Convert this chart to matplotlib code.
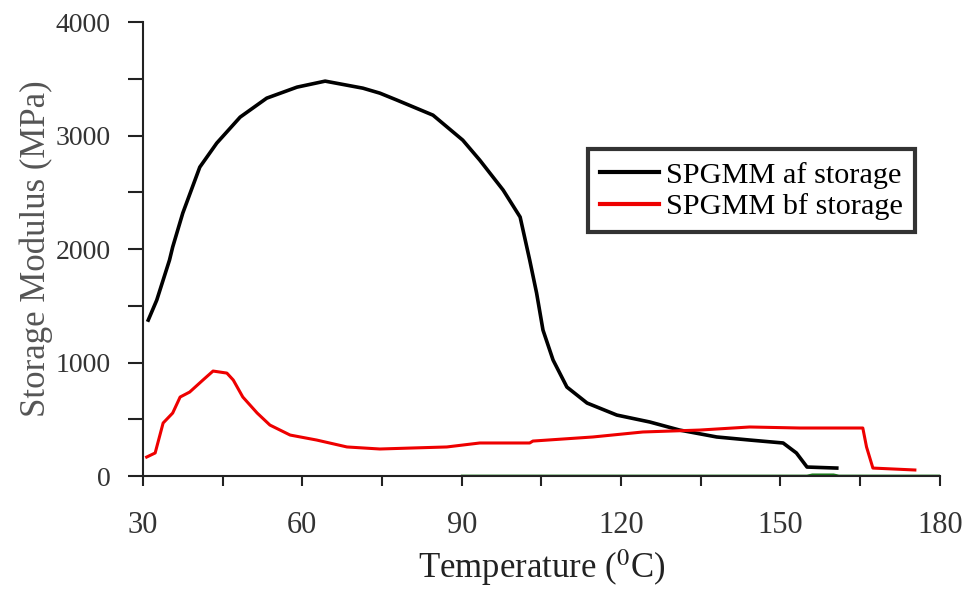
import matplotlib
matplotlib.use("Agg")
import matplotlib.pyplot as plt
from matplotlib.ticker import MultipleLocator

plt.rcParams['font.family'] = ['Liberation Serif', 'DejaVu Serif']
plt.rcParams['mathtext.fontset'] = 'stix'

# SPGMM after storage (black)
t_af = [31, 32.6, 35, 35.6, 37.5, 40.7, 43.9, 48.3, 53.3, 59, 64.3, 71.4, 74.6, 77.8, 84.6,
        90.2, 93.4, 97.8, 101, 102.8, 104.1, 105.3, 107.2, 109.8, 113.6, 119.2, 125.4,
        131, 138, 144.2, 150.5, 153, 155, 160.6]
e_af = [1374, 1550, 1903, 2018, 2317, 2722, 2934, 3163, 3330, 3427, 3480, 3418, 3374, 3313, 3180,
        2960, 2784, 2520, 2282, 1903, 1612, 1286, 1022, 784, 643, 537, 476,
        405, 344, 317, 291, 203, 79, 70]

# SPGMM before storage (red)
t_bf = [30.7, 32.3, 33.8, 35.6, 37, 38.8, 41.3, 43.2, 45.8, 47, 48.8, 51.5, 53.9, 57.7,
        62.7, 68.4, 74.6, 80.8, 87.2, 93.4, 102.8, 103.4, 114.7, 124.1, 134.8, 144.2,
        153.6, 165.5, 166.2, 167.4, 175.3]
e_bf = [167, 203, 467, 555, 696, 740, 846, 925, 907, 846, 696, 555, 449, 361,
        317, 256, 238, 247, 256, 291, 291, 308, 344, 388, 405, 432,
        423, 423, 256, 70, 53]

# faint green trace along the baseline
t_g = [90, 155, 156, 160, 161, 180]
e_g = [5, 5, 15, 15, 5, 5]

fig = plt.figure(figsize=(9.79, 5.98), dpi=100)
ax = fig.add_axes([0.146, 0.204, 0.814, 0.759])

ax.plot(t_g, e_g, color='#1a7a1a', lw=1.2)
ax.plot(t_af, e_af, color='black', lw=2.6, label='SPGMM af storage')
ax.plot(t_bf, e_bf, color='#ee0000', lw=2.2, label='SPGMM bf storage')

ax.set_xlim(30, 180)
ax.set_ylim(0, 4000)
ax.xaxis.set_major_locator(MultipleLocator(30))
ax.xaxis.set_minor_locator(MultipleLocator(15))
ax.yaxis.set_major_locator(MultipleLocator(1000))
ax.yaxis.set_minor_locator(MultipleLocator(500))
ax.tick_params(which='both', direction='out', width=1.5, colors='#222222')
ax.tick_params(axis='x', which='both', length=7.5, pad=18, labelsize=22, labelcolor='#333333')
ax.tick_params(axis='y', which='both', length=11, pad=12, labelsize=20, labelcolor='#333333')
for s in ['top', 'right']:
    ax.spines[s].set_visible(False)
for s in ['left', 'bottom']:
    ax.spines[s].set_linewidth(1.5)
    ax.spines[s].set_color('#222222')

ax.set_xlabel('Temperature ($^{0}$C)', fontsize=25, color='#222222', labelpad=5)
ax.set_ylabel('Storage Modulus (MPa)', fontsize=25, color='#555555', labelpad=2)

leg = ax.legend(loc='upper left', bbox_to_anchor=(0.558, 0.72), fontsize=21.8,
                frameon=True, fancybox=False, handlelength=1.95, borderpad=0.4,
                labelspacing=0.15, handletextpad=0.25, borderaxespad=0)
leg.get_frame().set_edgecolor('black')
leg.get_frame().set_linewidth(3)
for ln in leg.get_lines():
    ln.set_linewidth(3)

fig.savefig('out.png', dpi=100)
